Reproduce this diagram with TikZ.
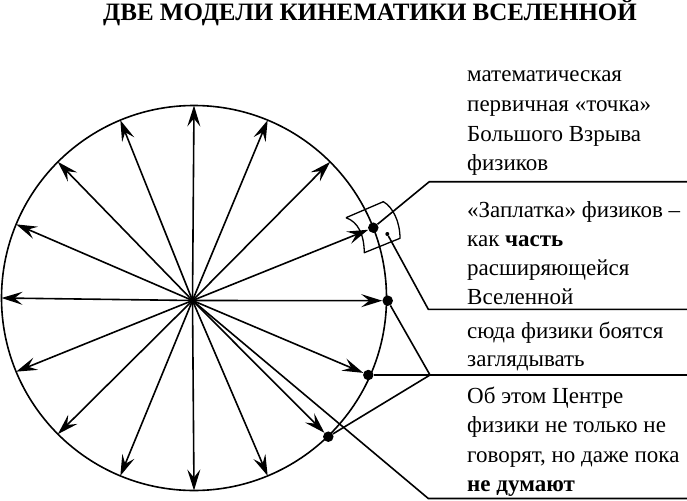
\documentclass[tikz,border=0pt]{standalone}
\usepackage{fontspec}
\setmainfont{Liberation Serif}
\newfontfamily\tnr{Liberation Serif}
\usetikzlibrary{arrows.meta}
\begin{document}
\begin{tikzpicture}[x=1pt,y=-1pt,
  ln/.style={line width=1.6pt},
  ray/.style={line width=1.6pt,-{Stealth[length=21pt,width=13pt,inset=8pt]}},
  bigdot/.style={circle,fill=black,inner sep=0pt,minimum size=10.5pt},
  smalldot/.style={circle,fill=black,inner sep=0pt,minimum size=4pt},
  lbl/.style={anchor=base west,inner sep=0pt,font=\tnr\fontsize{23}{27}\selectfont},
  ttl/.style={anchor=base,inner sep=0pt,font=\tnr\fontsize{25}{30}\selectfont\bfseries},
]
\useasboundingbox (0,0) rectangle (687,500);
% title
\node[ttl] (title) at (370,20.5) {ДВЕ МОДЕЛИ КИНЕМАТИКИ ВСЕЛЕННОЙ};
% circle
\coordinate (cc) at (194,298);
\coordinate (o) at (192.5,300.5);
\draw[ln] (cc) circle[radius=192.5pt];
% dots on the circle
\node[bigdot] (d1) at (373.3,227.7) {};
\node[bigdot] (d2) at (387.7,300.7) {};
\node[bigdot] (d3) at (368.3,375) {};
\node[bigdot] (d4) at (328.3,436.7) {};
\node[smalldot] (sd) at (387.3,234) {};
% rays to the circle
\foreach \a in {-157.5,-135,-112.5,-90,-67.5,-45,67.5,90,112.5,135,157.5,180}{
  \coordinate (e) at ([shift={(\a:192.5)}]cc);
  \draw[ray] (o) -- (e);
}
% rays to the dots
\draw[ray] (o) -- (d1);
\draw[ray] (o) -- (d2);
\draw[ray] (o) -- (d3);
\draw[ray] (o) -- (d4);
% patch
\coordinate (pA) at (346,217.7);
\coordinate (pB) at (383.3,201.7);
\coordinate (pC) at (400,238.3);
\coordinate (pD) at (364.3,252.7);
\draw[line width=1.3pt,line join=round] (pA) -- (pB) .. controls (393,207) and (400,222) .. (pC) -- (pD)
  .. controls (364,234) and (358,222) .. (pA);
% leader lines
\coordinate (k1) at (429.3,181.7);
\coordinate (r1) at (687,181.7);
\coordinate (k2) at (428.3,309.3);
\coordinate (r2) at (687,309.3);
\coordinate (J) at (430,375);
\coordinate (r3) at (687,375);
\coordinate (k4) at (428.3,498.5);
\coordinate (r4) at (687,498.5);
\draw[ln] (d1) -- (k1) -- (r1);
\draw[ln] (sd) -- (k2) -- (r2);
\draw[ln] (d2) -- (J);
\draw[ln] (d4) -- (J);
\draw[ln] (d3) -- (J) -- (r3);
\draw[ln] (o) -- (k4) -- (r4);
% labels
\node[lbl] (a1) at (467,82) {математическая};
\node[lbl] (a2) at (467,111.5) {первичная «точка»};
\node[lbl] (a3) at (467,141) {Большого Взрыва};
\node[lbl] (a4) at (467,170) {физиков};
\node[lbl] (b1) at (467,217) {«Заплатка» физиков –};
\node[lbl] (b2) at (467,246.5) {как \textbf{часть}};
\node[lbl] (b3) at (467,275.5) {расширяющейся};
\node[lbl] (b4) at (467,304) {Вселенной};
\node[lbl] (c1) at (467,338) {сюда физики боятся};
\node[lbl] (c2) at (467,366) {заглядывать};
\node[lbl] (f1) at (467,403) {Об этом Центре};
\node[lbl] (f2) at (467,432.5) {физики не только не};
\node[lbl] (f3) at (467,462) {говорят, но даже пока};
\node[lbl] (f4) at (467,491.5) {\textbf{не думают}};
\end{tikzpicture}
\end{document}
